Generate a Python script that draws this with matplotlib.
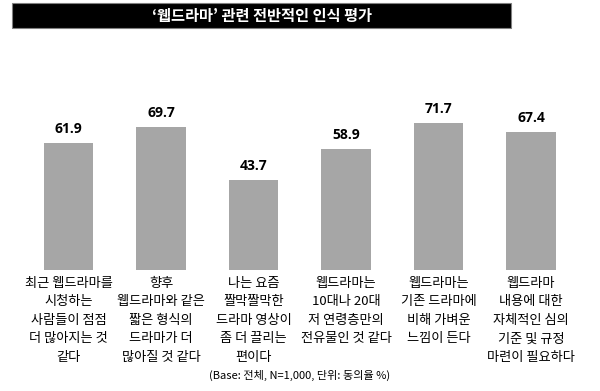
import matplotlib
matplotlib.use("Agg")
from matplotlib import pyplot as plt
from matplotlib.patches import Rectangle

plt.rcParams["font.family"] = ["Noto Sans CJK KR", "DejaVu Sans"]

# chart data
categories = [
    "최근 웹드라마를\n시청하는\n사람들이 점점\n더 많아지는 것\n같다",
    "향후\n웹드라마와 같은\n짧은 형식의\n드라마가 더\n많아질 것 같다",
    "나는 요즘\n짤막짤막한\n드라마 영상이\n좀 더 끌리는\n편이다",
    "웹드라마는\n10대나 20대\n저 연령층만의\n전유물인 것 같다",
    "웹드라마는\n기존 드라마에\n비해 가벼운\n느낌이 든다",
    "웹드라마\n내용에 대한\n자체적인 심의\n기준 및 규정\n마련이 필요하다",
]
values = [61.9, 69.7, 43.7, 58.9, 71.7, 67.4]
title = "‘웹드라마’ 관련 전반적인 인식 평가"
note = "(Base: 전체, N=1,000, 단위: 동의율 %)"

W, H = 600, 391
fig = plt.figure(figsize=(W / 100, H / 100), dpi=100)

# title bar
fig.patches.append(Rectangle((12 / W, 1 - 28 / H), 499 / W, 25 / H,
                             transform=fig.transFigure, facecolor="black",
                             edgecolor="#808080", linewidth=0.8))
fig.text(261.5 / W, 1 - 15.5 / H, title, color="white", fontsize=11,
         fontweight="bold", ha="center", va="center")

# bars
ax = fig.add_axes([0, 1 - 270 / H, 1, 170 / H])
x = list(range(len(values)))
ax.bar(x, values, width=0.53, color="#A6A6A6")
ax.set_xlim(-68.5 / 92.5, (W - 68.5) / 92.5)
ax.set_ylim(0, 170 / 2.05)
ax.axis("off")

for i, v in enumerate(values):
    ax.annotate(f"{v:.1f}", xy=(i, v), xytext=(0, 5), textcoords="offset points",
                ha="center", va="bottom", fontsize=10, fontweight="bold",
                family=["Open Sans", "DejaVu Sans"])
    ax.annotate(categories[i], xy=(i, 0), xytext=(0, -5), textcoords="offset points",
                ha="center", va="top", fontsize=9.5, fontweight="medium",
                linespacing=1.55, annotation_clip=False)

fig.text(300 / W, 1 - 375 / H, note, fontsize=8, ha="center", va="center")

fig.savefig("out.png", dpi=100)
